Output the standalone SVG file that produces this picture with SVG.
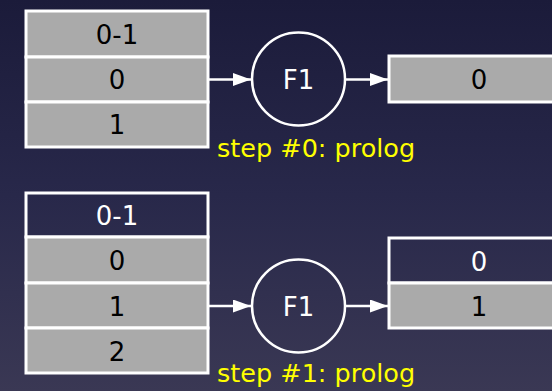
<svg xmlns="http://www.w3.org/2000/svg" width="552" height="391" viewBox="0 0 552 391">
  <defs>
    <linearGradient id="bg" x1="0" y1="0" x2="0" y2="1">
      <stop offset="0" stop-color="#1b1b3a"/>
      <stop offset="0.5" stop-color="#28284a"/>
      <stop offset="1" stop-color="#3a3854"/>
    </linearGradient>
    <marker id="arrow" viewBox="0 0 18 13" refX="18" refY="6.5" markerWidth="18" markerHeight="13" markerUnits="userSpaceOnUse" orient="auto">
      <path d="M0,0 L18,6.5 L0,13 z" fill="#ffffff"/>
    </marker>
    <style>
      .cell { fill: #aaaaaa; stroke: #ffffff; stroke-width: 3; }
      .cell-dark { fill: none; stroke: #ffffff; stroke-width: 3; }
      .num { font-family: "DejaVu Sans", Verdana, sans-serif; font-size: 26px; fill: #000000; text-anchor: middle; }
      .num-light { font-family: "DejaVu Sans", Verdana, sans-serif; font-size: 26px; fill: #ffffff; text-anchor: middle; }
      .fn { fill: none; stroke: #ffffff; stroke-width: 2.5; }
      .fn-label { font-family: "DejaVu Sans", Verdana, sans-serif; font-size: 26px; fill: #ffffff; text-anchor: middle; }
      .step { font-family: "DejaVu Sans", Verdana, sans-serif; font-size: 25.5px; fill: #ffff00; }
      .link { stroke: #ffffff; stroke-width: 2.7; fill: none; marker-end: url(#arrow); }
    </style>
  </defs>

  <rect x="0" y="0" width="552" height="391" fill="url(#bg)"/>

  <!-- step 0 -->
  <g id="input0">
    <rect class="cell" x="26" y="11" width="182" height="46"/>
    <text class="num" x="117" y="44">0-1</text>
    <rect class="cell" x="26" y="57" width="182" height="45"/>
    <text class="num" x="117" y="89">0</text>
    <rect class="cell" x="26" y="102" width="182" height="45"/>
    <text class="num" x="117" y="134">1</text>
  </g>
  <g id="f1-step0">
    <circle class="fn" cx="298.5" cy="79" r="46.5"/>
    <text class="fn-label" x="298.5" y="89">F1</text>
  </g>
  <g id="output0">
    <rect class="cell" x="389" y="56" width="182" height="46"/>
    <text class="num" x="479" y="89">0</text>
  </g>
  <text id="label0" class="step" x="217" y="157">step #0: prolog</text>

  <!-- step 1 -->
  <g id="input1">
    <rect class="cell-dark" x="26" y="193" width="182" height="44"/>
    <text class="num-light" x="117" y="225">0-1</text>
    <rect class="cell" x="26" y="237" width="182" height="46"/>
    <text class="num" x="117" y="270">0</text>
    <rect class="cell" x="26" y="283" width="182" height="45"/>
    <text class="num" x="117" y="316">1</text>
    <rect class="cell" x="26" y="328" width="182" height="45"/>
    <text class="num" x="117" y="361">2</text>
  </g>
  <g id="f1-step1">
    <circle class="fn" cx="298.5" cy="306" r="46.5"/>
    <text class="fn-label" x="298.5" y="316">F1</text>
  </g>
  <g id="output1">
    <rect class="cell-dark" x="389" y="238" width="182" height="45"/>
    <text class="num-light" x="479" y="271">0</text>
    <rect class="cell" x="389" y="283" width="182" height="45"/>
    <text class="num" x="479" y="316">1</text>
  </g>
  <text id="label1" class="step" x="217" y="382">step #1: prolog</text>

  <g id="connectors">
    <line class="link" x1="209" y1="79.5" x2="251" y2="79.5"/>
    <line class="link" x1="346" y1="79.5" x2="388" y2="79.5"/>
    <line class="link" x1="209" y1="306" x2="251" y2="306"/>
    <line class="link" x1="346" y1="306" x2="388" y2="306"/>
  </g>
</svg>
